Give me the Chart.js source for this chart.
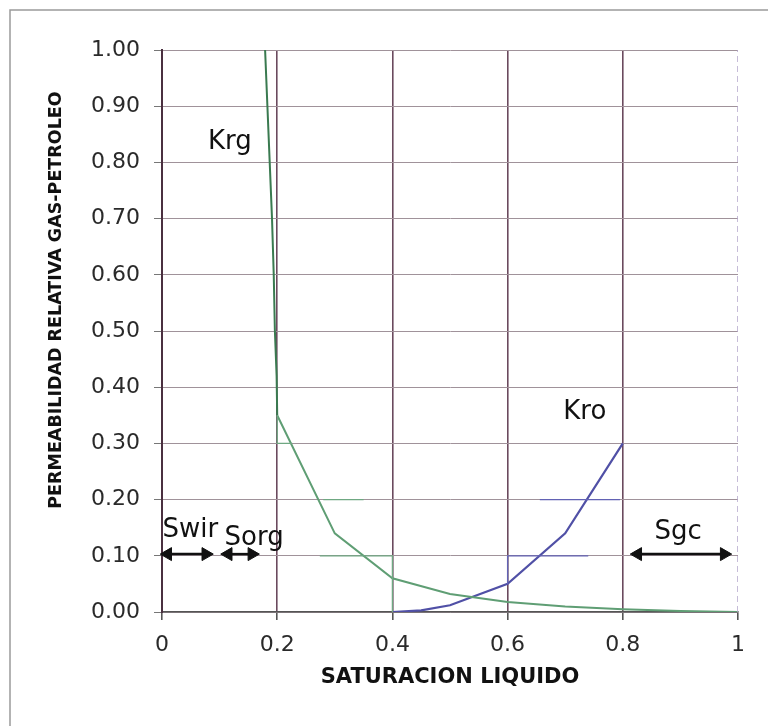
<!DOCTYPE html>
<html>
<head>
<meta charset="utf-8">
<script src="https://cdn.jsdelivr.net/npm/chart.js@4/dist/chart.umd.min.js"></script>
<style>
  html, body { margin: 0; padding: 0; background: #fff; }
  canvas { display: block; }
</style>
</head>
<body>
<canvas id="permChart" width="768" height="726"></canvas>
<script>
// saturacion liquido vs permeabilidad relativa
const krgX = [0.179, 0.183, 0.187, 0.191, 0.194, 0.196, 0.199, 0.2, 0.3, 0.4, 0.5, 0.6, 0.7, 0.8, 0.9, 1.0];
const krgY = [1.0, 0.9, 0.8, 0.7, 0.6, 0.5, 0.42, 0.35, 0.14, 0.06, 0.032, 0.018, 0.01, 0.005, 0.002, 0.0];
const kroX = [0.4, 0.45, 0.5, 0.6, 0.7, 0.8];
const kroY = [0.0, 0.003, 0.012, 0.05, 0.14, 0.30];

// flechas de saturacion (inicio, fin, nivel)
const arrowNames = ['Swir', 'Sorg', 'Sgc'];
const arrowFrom = [0.010, 0.115, 0.826];
const arrowTo = [0.076, 0.156, 0.976];
const arrowLevel = 0.103;

// textos sobre el grafico
const noteText = ['Krg', 'Kro', 'Swir', 'Sorg', 'Sgc'];
const noteX = [0.118, 0.734, 0.049, 0.160, 0.896];
const noteY = [0.836, 0.356, 0.146, 0.132, 0.142];

// tramos de rejilla teñidos (como en la hoja original)
const greenMarksX = [[0.2, 0.2, 0.226], [0.28, 0.35], [0.274, 0.4, 0.4]];
const greenMarksY = [[0.35, 0.30, 0.30], [0.20, 0.20], [0.10, 0.10, 0.0]];
const blueMarksX = [[0.656, 0.795], [0.74, 0.6, 0.6]];
const blueMarksY = [[0.20, 0.20], [0.10, 0.10, 0.05]];

const xTickLabels = ['0', '0.2', '0.4', '0.6', '0.8', '1'];
const yTickLabels = ['0.00', '0.10', '0.20', '0.30', '0.40', '0.50', '0.60', '0.70', '0.80', '0.90', '1.00'];

const xTitle = 'SATURACION LIQUIDO';
const yTitle = 'PERMEABILIDAD RELATIVA GAS-PETROLEO';

const GREEN = '#5f9e74';
const GREEN_DARK = '#3a7a50';
const BLUE = '#5050a6';

function pts(xs, ys) {
    return xs.map((x, i) => ({ x: x, y: ys[i] }));
}

const datasets = [];

greenMarksX.forEach((xs, i) => {
    datasets.push({ data: pts(xs, greenMarksY[i]), borderColor: '#6fa882', borderWidth: 1.3, pointRadius: 0 });
});
blueMarksX.forEach((xs, i) => {
    datasets.push({ data: pts(xs, blueMarksY[i]), borderColor: '#6262b4', borderWidth: 1.3, pointRadius: 0 });
});

// borde derecho punteado en x = 1
datasets.push({
    data: [{ x: 1, y: 0 }, { x: 1, y: 1 }],
    borderColor: '#b4a6cc', borderWidth: 1.5, borderDash: [6, 4], pointRadius: 0
});

datasets.push({
    label: 'Krg',
    data: pts(krgX, krgY),
    borderColor: GREEN,
    borderWidth: 2,
    pointRadius: 0,
    segment: { borderColor: c => c.p0.parsed.y > 0.4 ? GREEN_DARK : GREEN }
});
datasets.push({ label: 'Kro', data: pts(kroX, kroY), borderColor: BLUE, borderWidth: 2.2, pointRadius: 0 });

arrowNames.forEach((name, i) => {
    datasets.push({
        label: name,
        data: [{ x: arrowFrom[i], y: arrowLevel }, { x: arrowTo[i], y: arrowLevel }],
        borderColor: '#111',
        borderWidth: 2.5,
        pointStyle: 'triangle',
        pointRadius: 7.5,
        pointRotation: [-90, 90],
        pointBackgroundColor: '#111',
        pointBorderColor: '#111',
        pointBorderWidth: 1,
        clip: false
    });
});

const notesPlugin = {
    id: 'notes',
    beforeDraw(chart) {
        const ctx = chart.ctx;
        ctx.save();
        ctx.fillStyle = '#fff';
        ctx.fillRect(0, 0, chart.width, chart.height);
        ctx.strokeStyle = '#9a9a9a';
        ctx.lineWidth = 1.5;
        ctx.strokeRect(10, 10, chart.width + 20, chart.height + 20);
        ctx.restore();
    },
    afterDraw(chart) {
        const ctx = chart.ctx;
        const xs = chart.scales.x;
        const ys = chart.scales.y;
        ctx.save();
        ctx.fillStyle = '#111';
        ctx.font = '26px "DejaVu Sans"';
        ctx.textAlign = 'center';
        ctx.textBaseline = 'middle';
        noteText.forEach((t, i) => {
            ctx.fillText(t, xs.getPixelForValue(noteX[i]), ys.getPixelForValue(noteY[i]));
        });
        // titulo del eje y
        ctx.font = 'bold 17.5px "DejaVu Sans"';
        ctx.translate(56, ys.getPixelForValue(0.555));
        ctx.rotate(-Math.PI / 2);
        ctx.fillText(yTitle, 0, 0);
        ctx.restore();
    }
};

new Chart(document.getElementById('permChart').getContext('2d'), {
    type: 'line',
    data: { datasets: datasets },
    options: {
        responsive: false,
        animation: false,
        layout: { padding: { top: 50, right: 30, left: 0, bottom: 0 } },
        plugins: {
            legend: { display: false },
            tooltip: { enabled: false }
        },
        elements: { line: { tension: 0 } },
        scales: {
            x: {
                type: 'linear',
                min: 0,
                max: 1,
                afterFit: s => { s.height = 114; },
                ticks: {
                    stepSize: 0.2,
                    padding: 12,
                    color: '#2a2a2a',
                    font: { family: 'DejaVu Sans', size: 22 },
                    maxRotation: 0,
                    callback: (v, i) => xTickLabels[i]
                },
                grid: {
                    color: c => c.tick && c.tick.value === 1 ? 'rgba(0,0,0,0)' : '#6b4a5e',
                    tickColor: '#555',
                    lineWidth: 1.6,
                    tickLength: 8
                },
                border: { color: '#555', width: 1.5 },
                title: {
                    display: true,
                    text: xTitle,
                    color: '#111',
                    font: { family: 'DejaVu Sans', size: 21, weight: 'bold' },
                    padding: { top: 0, bottom: 36 }
                }
            },
            y: {
                type: 'linear',
                min: 0,
                max: 1,
                afterFit: s => { s.width = 162; },
                ticks: {
                    stepSize: 0.1,
                    padding: 14,
                    color: '#2a2a2a',
                    font: { family: 'DejaVu Sans', size: 22 },
                    callback: (v, i) => yTickLabels[i]
                },
                grid: {
                    color: '#a0929a',
                    tickColor: '#777',
                    lineWidth: 1,
                    tickLength: 8
                },
                border: { color: '#4a3040', width: 2 }
            }
        }
    },
    plugins: [notesPlugin]
});
</script>
</body>
</html>
